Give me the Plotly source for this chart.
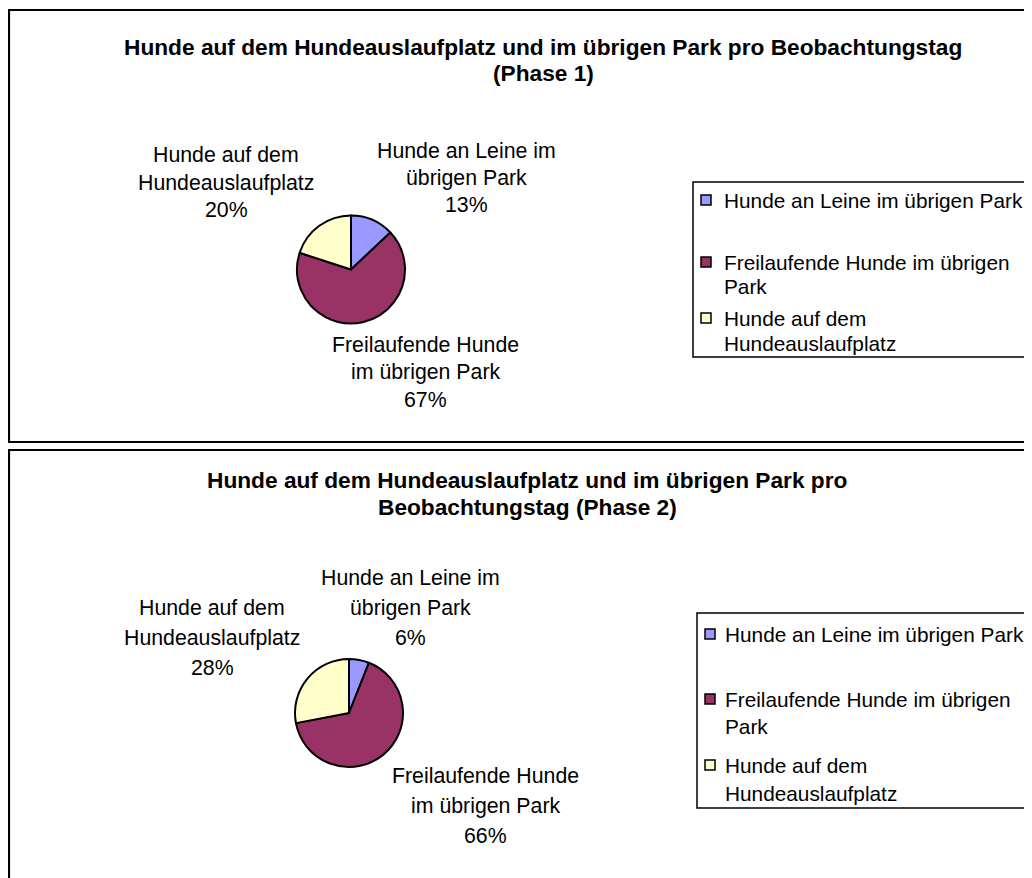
import plotly.graph_objects as go

W, H = 1032, 878
OFF = 8  # page body margin offset

categories = ["Hunde an Leine im übrigen Park",
              "Freilaufende Hunde im übrigen Park",
              "Hunde auf dem Hundeauslaufplatz"]
legend_lines = [["Hunde an Leine im übrigen Park"],
                ["Freilaufende Hunde im übrigen", "Park"],
                ["Hunde auf dem", "Hundeauslaufplatz"]]
label_lines = [["Hunde an Leine im", "übrigen Park"],
               ["Freilaufende Hunde", "im übrigen Park"],
               ["Hunde auf dem", "Hundeauslaufplatz"]]
phase1_values = [13, 67, 20]
phase2_values = [6, 66, 28]
colors = ["#9999FF", "#993366", "#FFFFCC"]
title1_lines = ["Hunde auf dem Hundeauslaufplatz und im übrigen Park pro Beobachtungstag", "(Phase 1)"]
title2_lines = ["Hunde auf dem Hundeauslaufplatz und im übrigen Park pro", "Beobachtungstag (Phase 2)"]

FONT = "Arial, Liberation Sans, sans-serif"
TXT = 21.3
LEG = 20.8
TTL = 22.7


def px(x):
    return (x - OFF) / W


def py(y):
    return 1 - (y - OFF) / H


fig = go.Figure()

panels = [
    dict(values=phase1_values, title=title1_lines, title_x=543, title_y=[47, 73],
         pie=(297, 405, 215, 324),
         label_pos=[(466, [151, 178, 205]), (425, [345, 372, 400]), (226, [155, 183, 210])],
         box=(9, 10, 1050, 442),
         legend_box=(693, 182, 1050, 357), swatch_x=701, text_x=722,
         legend_y=[[200], [262, 286], [318, 343]]),
    dict(values=phase2_values, title=title2_lines, title_x=527, title_y=[480, 507],
         pie=(295, 403, 659, 767),
         label_pos=[(410, [578, 608, 638]), (485, [776, 806, 836]), (212, [608, 638, 668])],
         box=(9, 450, 1050, 900),
         legend_box=(697, 613, 1050, 808), swatch_x=705, text_x=723,
         legend_y=[[634], [699, 726], [765, 793]]),
]

annotations = []
shapes = []
for p in panels:
    x0, x1, y0, y1 = p["pie"]
    fig.add_trace(go.Pie(
        values=p["values"], labels=categories, sort=False, direction="clockwise",
        rotation=0, textinfo="none", hoverinfo="label+percent",
        marker=dict(colors=colors, line=dict(color="black", width=2)),
        domain=dict(x=[px(x0), px(x1)], y=[py(y1), py(y0)]),
        showlegend=False))

    # panel border
    bx0, by0, bx1, by1 = p["box"]
    shapes.append(dict(type="rect", xref="paper", yref="paper",
                       x0=px(bx0), x1=px(bx1), y0=py(by1), y1=py(by0),
                       line=dict(color="black", width=2.2), fillcolor="rgba(0,0,0,0)"))

    # titles
    for line, yy in zip(p["title"], p["title_y"]):
        annotations.append(dict(text="<b>%s</b>" % line, x=px(p["title_x"]), y=py(yy),
                                xref="paper", yref="paper", showarrow=False,
                                xanchor="center", yanchor="middle",
                                font=dict(family=FONT, size=TTL, color="black")))

    # slice labels
    total = sum(p["values"])
    for i, (cx, ys) in enumerate(p["label_pos"]):
        pct = "%d%%" % round(100 * p["values"][i] / total)
        lines = label_lines[i] + [pct]
        for line, yy in zip(lines, ys):
            annotations.append(dict(text=line, x=px(cx), y=py(yy), xref="paper", yref="paper",
                                    showarrow=False, xanchor="center", yanchor="middle",
                                    font=dict(family=FONT, size=TXT, color="black")))

    # legend
    lx0, ly0, lx1, ly1 = p["legend_box"]
    shapes.append(dict(type="rect", xref="paper", yref="paper",
                       x0=px(lx0), x1=px(lx1), y0=py(ly1), y1=py(ly0),
                       line=dict(color="black", width=1.5), fillcolor="white", layer="below"))
    for i, ys in enumerate(p["legend_y"]):
        sy = ys[0]
        shapes.append(dict(type="rect", xref="paper", yref="paper",
                           x0=px(p["swatch_x"]), x1=px(p["swatch_x"] + 10),
                           y0=py(sy + 5), y1=py(sy - 5),
                           line=dict(color="black", width=1.5), fillcolor=colors[i]))
        for line, yy in zip(legend_lines[i], ys):
            annotations.append(dict(text=line, x=px(p["text_x"]), y=py(yy),
                                    xref="paper", yref="paper", showarrow=False,
                                    xanchor="left", yanchor="middle",
                                    font=dict(family=FONT, size=LEG, color="black")))

fig.update_layout(
    width=W, height=H,
    margin=dict(l=0, r=0, t=0, b=0),
    paper_bgcolor="white", plot_bgcolor="white",
    annotations=annotations, shapes=shapes,
    showlegend=False,
)

fig.write_html("out.html")
